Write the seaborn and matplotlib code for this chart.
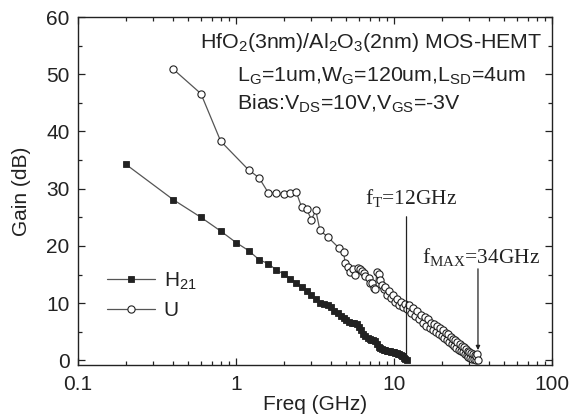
import matplotlib
matplotlib.use("Agg")
import matplotlib.pyplot as plt
from matplotlib.ticker import LogLocator, MultipleLocator, NullFormatter
import pandas as pd
import seaborn as sns

# Current gain |H21| versus frequency (GHz, dB)
h21_freq = [0.2, 0.4, 0.6, 0.8, 1.0, 1.2, 1.4, 1.6, 1.8, 2.0,
            2.2, 2.4, 2.6, 2.8, 3.0, 3.2, 3.4, 3.6, 3.8, 4.0,
            4.2, 4.4, 4.6, 4.8, 5.0, 5.2, 5.4, 5.6, 5.8, 6.0,
            6.2, 6.4, 6.6, 6.8, 7.0, 7.2, 7.4, 7.6, 7.8, 8.0,
            8.2, 8.4, 8.6, 8.8, 9.0, 9.2, 9.4, 9.6, 9.8, 10.0,
            10.2, 10.4, 10.6, 10.8, 11.0, 11.2, 11.4, 11.6, 11.8, 12.0]
h21_gain = [34.3, 28.1, 25.0, 22.6, 20.6, 19.2, 17.6, 16.9, 15.8, 15.1,
            14.3, 13.6, 12.9, 12.2, 11.5, 10.7, 10.1, 9.9, 9.7, 9.3,
            8.7, 8.2, 7.8, 7.4, 7.1, 6.8, 6.6, 6.5, 6.4, 5.8,
            5.3, 4.7, 4.2, 3.9, 3.7, 3.6, 3.5, 3.4, 2.8, 2.4,
            2.2, 2.0, 1.9, 1.8, 1.7, 1.7, 1.6, 1.5, 1.5, 1.4,
            1.3, 1.3, 1.2, 1.1, 1.0, 0.8, 0.7, 0.5, 0.3, 0.0]

# Unilateral power gain U versus frequency (GHz, dB)
u_freq = [0.4, 0.6, 0.8, 1.2, 1.4, 1.6, 1.8, 2.0, 2.2, 2.4,
          2.6, 2.8, 3.0, 3.2, 3.4, 3.8, 4.5, 4.8, 4.9, 5.1,
          5.3, 5.5, 5.7, 5.9, 6.1, 6.3, 6.5, 6.6, 6.9, 7.1,
          7.3, 7.5, 7.6, 7.8, 8.0, 8.2, 8.4, 8.6, 8.8, 9.0,
          9.3, 9.6, 9.9, 10.2, 10.5, 10.8, 11.1, 11.4, 11.7, 12.0,
          12.4, 12.8, 13.2, 13.6, 14.0, 14.4, 14.8, 15.2, 15.6, 16.0,
          16.4, 16.8, 17.2, 17.6, 18.0, 18.4, 18.8, 19.2, 19.6, 20.0,
          20.4, 20.8, 21.2, 21.6, 22.0, 22.4, 22.8, 23.2, 23.6, 24.0,
          24.4, 24.8, 25.2, 25.6, 26.0, 26.4, 26.8, 27.2, 27.6, 28.0,
          28.4, 28.8, 29.2, 29.6, 30.0, 30.4, 30.8, 31.2, 31.6, 32.0,
          32.4, 32.8, 33.2, 33.6, 34.0]
u_gain = [50.9, 46.6, 38.3, 33.3, 31.9, 29.3, 29.2, 29.0, 29.2, 29.5,
          26.8, 26.4, 24.6, 26.2, 22.7, 21.6, 19.6, 18.9, 17.1, 16.3,
          15.4, 15.9, 15.0, 16.1, 16.0, 15.6, 15.3, 14.7, 14.4, 13.5,
          13.5, 12.6, 12.4, 15.5, 15.1, 14.1, 13.2, 12.4, 12.8, 11.5,
          12.2, 10.9, 11.4, 10.2, 10.8, 9.7, 10.2, 9.3, 9.8, 9.0,
          9.7, 8.3, 9.1, 7.7, 8.6, 7.2, 8.0, 6.6, 7.5, 6.1,
          7.2, 5.7, 6.6, 5.3, 6.4, 5.0, 6.0, 4.6, 5.7, 4.2,
          5.3, 3.9, 4.8, 3.5, 4.6, 3.2, 4.1, 2.8, 3.8, 2.5,
          3.5, 2.2, 3.2, 1.9, 2.9, 1.6, 2.6, 1.4, 2.3, 1.1,
          2.0, 0.9, 1.7, 0.6, 1.5, 0.4, 1.3, 0.3, 1.1, 0.2,
          0.9, 0.1, 0.8, 1.2, 0.1]

x_ticks = [0.1, 1, 10, 100]
x_tick_labels = ["0.1", "1", "10", "100"]
ft_value = 12
fmax_value = 34

sns.set_theme(style="ticks")
plt.rcParams["font.family"] = ["Liberation Sans", "DejaVu Sans"]
plt.rcParams["mathtext.default"] = "regular"

ink = "#222222"
line_grey = "#555555"
fs = 15
fs_note = 15.4

fig = plt.figure(figsize=(5.71, 4.17), dpi=100)
ax = fig.add_axes([78 / 571, 52 / 417, 474 / 571, 348 / 417])

h21 = pd.DataFrame({"freq": h21_freq, "gain": h21_gain})
u = pd.DataFrame({"freq": u_freq, "gain": u_gain})

sns.lineplot(data=h21, x="freq", y="gain", ax=ax, sort=False, estimator=None,
             color=line_grey, linewidth=0.9, marker="s", markersize=4.6,
             markerfacecolor=ink, markeredgecolor=ink, markeredgewidth=0.6,
             label="H$_{21}$")
sns.lineplot(data=u, x="freq", y="gain", ax=ax, sort=False, estimator=None,
             color=line_grey, linewidth=0.9, marker="o", markersize=5.2,
             markerfacecolor="white", markeredgecolor=ink, markeredgewidth=0.8,
             label="U")

ax.set_xscale("log")
ax.set_xlim(0.1, 100)
ax.set_ylim(-0.8, 60)
ax.set_xticks(x_ticks, labels=x_tick_labels)
ax.xaxis.set_minor_locator(LogLocator(base=10, subs=range(2, 10), numticks=20))
ax.xaxis.set_minor_formatter(NullFormatter())
ax.yaxis.set_major_locator(MultipleLocator(10))
ax.yaxis.set_minor_locator(MultipleLocator(5))

ax.tick_params(which="both", direction="in", top=True, right=True,
               colors=ink, labelsize=fs, width=0.9)
ax.tick_params(which="major", length=5)
ax.tick_params(which="minor", length=3)
ax.tick_params(axis="x", which="major", pad=7)
ax.tick_params(axis="y", which="major", pad=6)
for spine in ax.spines.values():
    spine.set_color(ink)
    spine.set_linewidth(1.0)

ax.set_xlabel("Freq (GHz)", fontsize=fs, color=ink)
ax.set_ylabel("Gain (dB)", fontsize=fs, color=ink)
ax.xaxis.set_label_coords(0.5, -0.086)
ax.yaxis.set_label_coords(-0.099, 0.5)

leg = ax.legend(loc="center left", bbox_to_anchor=(0.040, 0.201), frameon=False,
                fontsize=fs, handlelength=2.3, handletextpad=0.4, borderpad=0,
                labelspacing=0.45)
for t in leg.get_texts():
    t.set_color(ink)

# Device description
ax.text(0.257, 0.911, "HfO$_2$(3nm)/Al$_2$O$_3$(2nm) MOS-HEMT",
        transform=ax.transAxes, fontsize=fs_note, color=ink, va="baseline")
ax.text(0.335, 0.813, "L$_G$=1um,W$_G$=120um,L$_{SD}$=4um",
        transform=ax.transAxes, fontsize=fs_note, color=ink, va="baseline")
ax.text(0.335, 0.733, "Bias:V$_{DS}$=10V,V$_{GS}$=-3V",
        transform=ax.transAxes, fontsize=fs_note, color=ink, va="baseline")

# Cut-off frequency markers
arrow = dict(arrowstyle="-|>", color=ink, lw=0.9, mutation_scale=6,
             shrinkA=0, shrinkB=0)
ax.annotate("", xy=(ft_value, -0.4), xytext=(ft_value, 25.1), arrowprops=arrow)
ax.annotate("", xy=(fmax_value, 1.8), xytext=(fmax_value, 16.0), arrowprops=arrow)
ax.text(6.6, 27.3, "f$_T$=%dGHz" % ft_value, family=["Liberation Serif"],
        fontsize=fs_note, color=ink, va="baseline")
ax.text(15.0, 17.0, "f$_{MAX}$=%dGHz" % fmax_value, family=["Liberation Serif"],
        fontsize=fs_note, color=ink, va="baseline")

fig.savefig("out.png", dpi=100)
